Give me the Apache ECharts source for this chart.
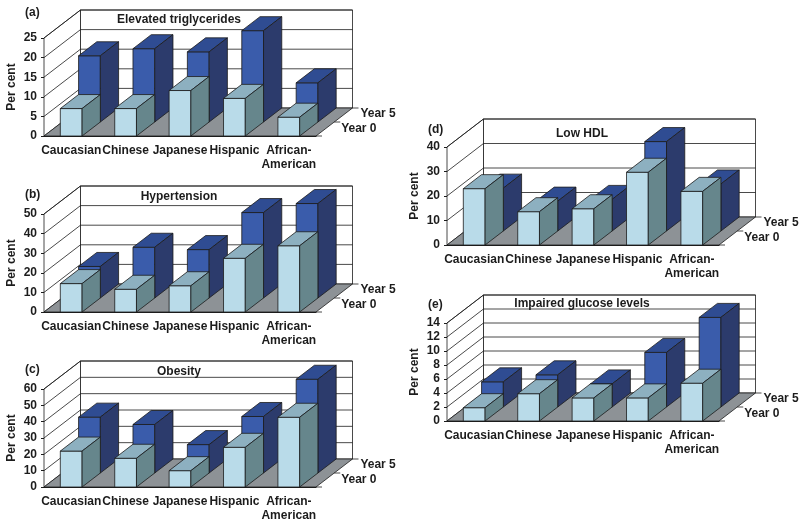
<!DOCTYPE html>
<html>
<head>
<meta charset="utf-8">
<title>Risk factors by ethnic group</title>
<script src="https://cdn.jsdelivr.net/npm/echarts@6/dist/echarts.min.js"></script>
<style>
html,body{margin:0;padding:0;background:#fff}
#main{width:800px;height:523px}
</style>
</head>
<body>
<div id="main"></div>
<script>
var categories = ['Caucasian', 'Chinese', 'Japanese', 'Hispanic', 'African-\nAmerican'];
var depthNames = ['Year 0', 'Year 5'];

// values, per cent
var trigYear0 = [7, 7, 11.6, 9.6, 4.8];
var trigYear5 = [16.9, 18.7, 17.9, 23.3, 10];
var hyperYear0 = [14.5, 11.6, 13.4, 27.4, 33.8];
var hyperYear5 = [16.1, 25.9, 24.7, 43.6, 48.2];
var obesityYear0 = [22, 17.6, 10, 24.3, 42.7];
var obesityYear5 = [34.2, 29.7, 17.4, 34.6, 57.4];
var hdlYear0 = [23, 13.6, 14.8, 29.7, 21.9];
var hdlYear5 = [17.5, 12.2, 12.9, 36.5, 19.2];
var glucoseYear0 = [1.9, 3.9, 3.3, 3.3, 5.4];
var glucoseYear5 = [3.6, 4.6, 3.3, 7.8, 12.8];

var panels = [
    {tag: '(a)', name: 'Elevated triglycerides', left: 44, top: 38, max: 25, step: 5, y0: trigYear0, y5: trigYear5, tagTop: 2, nameTop: 9},
    {tag: '(b)', name: 'Hypertension', left: 44, top: 214, max: 50, step: 10, y0: hyperYear0, y5: hyperYear5, tagTop: 184, nameTop: 186},
    {tag: '(c)', name: 'Obesity', left: 44, top: 389, max: 60, step: 10, y0: obesityYear0, y5: obesityYear5, tagTop: 359, nameTop: 361},
    {tag: '(d)', name: 'Low HDL', left: 447, top: 147, max: 40, step: 10, y0: hdlYear0, y5: hdlYear5, tagTop: 119, nameTop: 123},
    {tag: '(e)', name: 'Impaired glucose levels', left: 447, top: 323, max: 14, step: 2, y0: glucoseYear0, y5: glucoseYear5, tagTop: 294, nameTop: 293}
];

var gridW = 272, gridH = 98;
var depthX = 36.5, depthY = -28;
var lineColor = '#1c1c1c';
var font = '"Liberation Sans", Arial, sans-serif';
var year0Colors = {front: '#b9dbe9', top: '#8db0c0', side: '#66868c'};
var year5Colors = {front: '#3a5cab', top: '#2f4c92', side: '#2c3b6c'};

function poly(points, fill) {
    return {
        type: 'polygon',
        shape: {points: points},
        style: {fill: fill, stroke: lineColor, lineWidth: 0.8}
    };
}

function line(a, b) {
    return {
        type: 'line',
        shape: {x1: a[0], y1: a[1], x2: b[0], y2: b[1]},
        style: {stroke: lineColor, lineWidth: 0.8}
    };
}

function frameItem(panel) {
    return function (params, api) {
        var o = api.coord([0, 0]);
        var band = api.size([1, 0])[0];
        var x0 = o[0] - band / 2;
        var x1 = x0 + band * categories.length;
        var yBase = o[1];
        var yTop = api.coord([0, panel.max])[1];
        var kids = [];
        // back wall, left wall, floor
        kids.push(poly([[x0 + depthX, yBase + depthY], [x1 + depthX, yBase + depthY], [x1 + depthX, yTop + depthY], [x0 + depthX, yTop + depthY]], '#fff'));
        kids.push(poly([[x0, yBase], [x0 + depthX, yBase + depthY], [x0 + depthX, yTop + depthY], [x0, yTop]], '#fff'));
        kids.push(poly([[x0, yBase], [x1, yBase], [x1 + depthX, yBase + depthY], [x0 + depthX, yBase + depthY]], '#8d9296'));
        for (var v = panel.step; v <= panel.max; v += panel.step) {
            var y = api.coord([0, v])[1];
            kids.push(line([x0, y], [x0 + depthX, y + depthY]));
            kids.push(line([x0 + depthX, y + depthY], [x1 + depthX, y + depthY]));
        }
        // ticks on the depth axis and the year names
        for (var d = 0; d < 3; d++) {
            var tx = x1 + depthX * d / 2, ty = yBase + depthY * d / 2;
            kids.push(line([tx, ty], [tx + 6, ty]));
        }
        depthNames.forEach(function (name, i) {
            kids.push({
                type: 'text',
                style: {
                    x: x1 + depthX * (i + 0.5) / 2 + (i ? 17 : 16),
                    y: yBase + depthY * (i + 0.5) / 2 + (i ? -1 : 0),
                    text: name,
                    fill: '#1c1c1c',
                    font: 'bold 12px ' + font,
                    textAlign: 'left',
                    textVerticalAlign: 'middle'
                }
            });
        });
        return {type: 'group', children: kids};
    };
}

function barItem(colors, shift) {
    return function (params, api) {
        var c = api.value(0);
        var front = api.coord([c, 0]);
        var head = api.coord([c, api.value(1)]);
        var w = api.size([1, 0])[0] / 2.5;
        var l = front[0] - w / 2 + depthX * shift;
        var r = l + w;
        var b = front[1] + depthY * shift;
        var t = head[1] + depthY * shift;
        var dx = depthX / 2, dy = depthY / 2;
        return {
            type: 'group',
            children: [
                poly([[l, b], [r, b], [r, t], [l, t]], colors.front),
                poly([[l, t], [r, t], [r + dx, t + dy], [l + dx, t + dy]], colors.top),
                poly([[r, b], [r + dx, b + dy], [r + dx, t + dy], [r, t]], colors.side)
            ]
        };
    };
}

function toPoints(values) {
    return values.map(function (v, i) { return [i, v]; });
}

var grids = [], xAxes = [], yAxes = [], series = [], titles = [];

panels.forEach(function (p, idx) {
    grids.push({left: p.left, top: p.top, width: gridW, height: gridH});
    xAxes.push({
        type: 'category',
        gridIndex: idx,
        data: categories,
        axisLine: {lineStyle: {color: lineColor, width: 1}},
        axisTick: {length: 3, lineStyle: {color: lineColor}},
        axisLabel: {interval: 0, margin: 8, color: '#1c1c1c', fontFamily: font, fontWeight: 'bold', fontSize: 12, lineHeight: 14}
    });
    yAxes.push({
        type: 'value',
        gridIndex: idx,
        min: 0,
        max: p.max,
        interval: p.step,
        name: 'Per cent',
        nameLocation: 'middle',
        nameRotate: 90,
        nameGap: 26,
        nameTextStyle: {color: '#1c1c1c', fontFamily: font, fontWeight: 'bold', fontSize: 12},
        splitLine: {show: false},
        axisLine: {show: true, lineStyle: {color: lineColor, width: 1}},
        axisTick: {show: true, length: 3, lineStyle: {color: lineColor}},
        axisLabel: {margin: 7, color: '#1c1c1c', fontFamily: font, fontWeight: 'bold', fontSize: 12}
    });
    series.push({
        type: 'custom', name: 'frame', xAxisIndex: idx, yAxisIndex: idx, z: 1,
        silent: true, clip: false,
        renderItem: frameItem(p),
        encode: {x: 0, y: 1},
        data: [[0, 0]]
    });
    series.push({
        type: 'custom', name: depthNames[1], xAxisIndex: idx, yAxisIndex: idx, z: 2,
        clip: false,
        renderItem: barItem(year5Colors, 0.5),
        encode: {x: 0, y: 1},
        data: toPoints(p.y5)
    });
    series.push({
        type: 'custom', name: depthNames[0], xAxisIndex: idx, yAxisIndex: idx, z: 3,
        clip: false,
        renderItem: barItem(year0Colors, 0),
        encode: {x: 0, y: 1},
        data: toPoints(p.y0)
    });
    titles.push({
        text: p.tag,
        left: p.left - 24,
        top: p.tagTop,
        textStyle: {color: '#1c1c1c', fontFamily: font, fontWeight: 'bold', fontSize: 12}
    });
    titles.push({
        text: p.name,
        left: p.left + 130,
        textAlign: 'center',
        top: p.nameTop,
        textStyle: {color: '#1c1c1c', fontFamily: font, fontWeight: 'bold', fontSize: 12}
    });
});

var chart = echarts.init(document.getElementById('main'), null, {renderer: 'canvas'});
chart.setOption({
    animation: false,
    backgroundColor: '#fff',
    title: titles,
    grid: grids,
    xAxis: xAxes,
    yAxis: yAxes,
    series: series
});
</script>
</body>
</html>
